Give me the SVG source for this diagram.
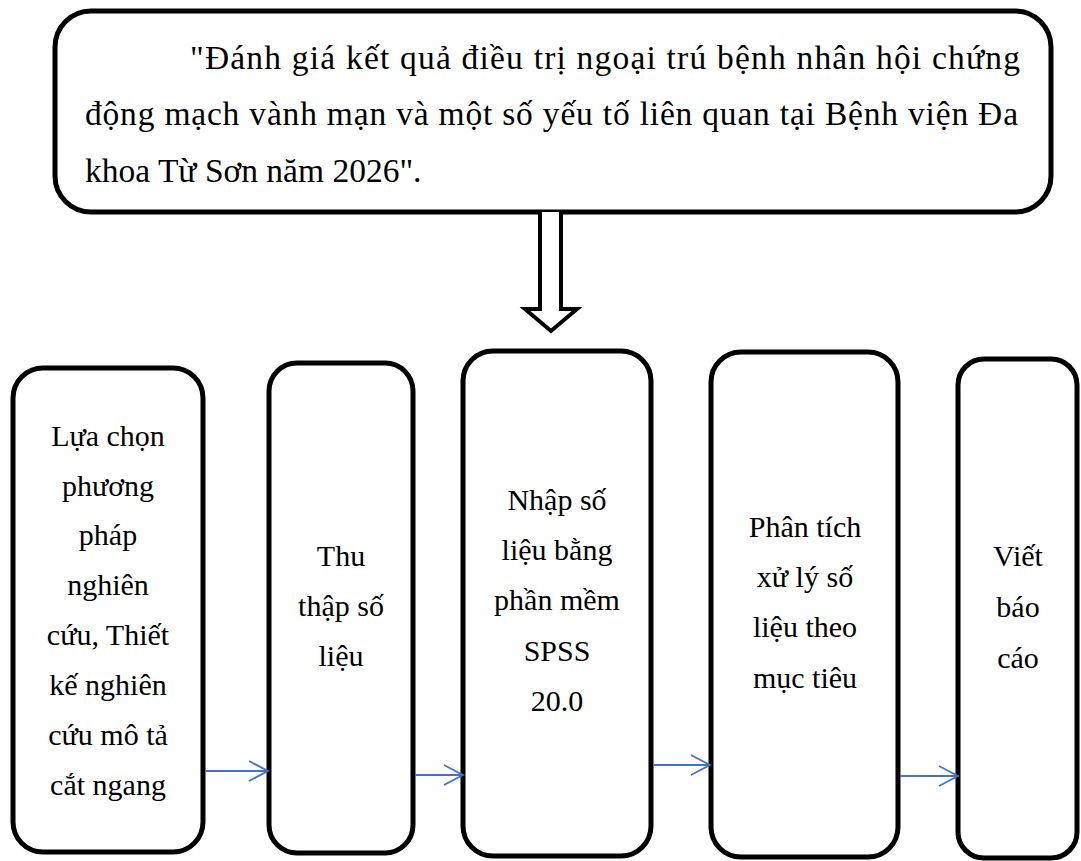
<svg xmlns="http://www.w3.org/2000/svg" width="1081" height="861" viewBox="0 0 1081 861">
<style>
  .box { fill: #ffffff; stroke: #000000; stroke-width: 5; }
  .t { font-family: "Liberation Serif", "Times New Roman", serif; font-size: 30px; fill: #000000; text-anchor: middle; }
  .tt { font-family: "Liberation Serif", "Times New Roman", serif; font-size: 33.5px; fill: #000000; }
  .conn { stroke: #4472C4; stroke-width: 1.8; fill: none; }
</style>
<defs>
  <marker id="arr" markerUnits="userSpaceOnUse" markerWidth="22" markerHeight="22" refX="19" refY="10" orient="auto" overflow="visible">
    <path d="M0,0 L19,10 L0,20" fill="none" stroke="#4472C4" stroke-width="1.8"/>
  </marker>
</defs>
<rect width="1081" height="861" fill="#ffffff"/>

<g id="title">
  <rect class="box" x="55" y="11" width="996" height="201" rx="36" ry="36"/>
  <text class="tt" x="190" y="69" textLength="830" lengthAdjust="spacing">"Đánh giá kết quả điều trị ngoại trú bệnh nhân hội chứng</text>
  <text class="tt" x="85" y="125" textLength="933" lengthAdjust="spacing">động mạch vành mạn và một số yếu tố liên quan tại Bệnh viện Đa</text>
  <text class="tt" x="85" y="182">khoa Từ Sơn năm 2026".</text>
</g>

<g id="block-arrow">
  <path d="M540,212 V309 H525 L551,331 L577,309 H561 V212" fill="#ffffff" stroke="#000000" stroke-width="4" stroke-linejoin="miter"/>
</g>

<g id="box1">
  <rect class="box" x="13" y="368" width="190" height="484" rx="30" ry="30"/>
  <text class="t" x="108" y="446">Lựa chọn</text>
  <text class="t" x="108" y="496">phương</text>
  <text class="t" x="108" y="545">pháp</text>
  <text class="t" x="108" y="595">nghiên</text>
  <text class="t" x="108" y="645">cứu, Thiết</text>
  <text class="t" x="108" y="695">kế nghiên</text>
  <text class="t" x="108" y="745">cứu mô tả</text>
  <text class="t" x="108" y="795">cắt ngang</text>
</g>

<g id="box2">
  <rect class="box" x="269" y="363" width="144" height="490" rx="28" ry="28"/>
  <text class="t" x="341" y="566">Thu</text>
  <text class="t" x="341" y="616">thập số</text>
  <text class="t" x="341" y="666">liệu</text>
</g>

<g id="box3">
  <rect class="box" x="463" y="351" width="188" height="505" rx="30" ry="30"/>
  <text class="t" x="557" y="510">Nhập số</text>
  <text class="t" x="557" y="560">liệu bằng</text>
  <text class="t" x="557" y="610">phần mềm</text>
  <text class="t" x="557" y="661">SPSS</text>
  <text class="t" x="557" y="711">20.0</text>
</g>

<g id="box4">
  <rect class="box" x="711" y="352" width="187" height="505" rx="30" ry="30"/>
  <text class="t" x="805" y="537">Phân tích</text>
  <text class="t" x="805" y="587">xử lý số</text>
  <text class="t" x="805" y="637">liệu theo</text>
  <text class="t" x="805" y="688">mục tiêu</text>
</g>

<g id="box5">
  <rect class="box" x="958" y="359" width="119" height="499" rx="26" ry="26"/>
  <text class="t" x="1018" y="566">Viết</text>
  <text class="t" x="1018" y="617">báo</text>
  <text class="t" x="1018" y="668">cáo</text>
</g>

<g id="connectors">
  <line class="conn" x1="205" y1="771" x2="268" y2="771" marker-end="url(#arr)"/>
  <line class="conn" x1="415" y1="775" x2="463" y2="775" marker-end="url(#arr)"/>
  <line class="conn" x1="653" y1="765" x2="710" y2="765" marker-end="url(#arr)"/>
  <line class="conn" x1="900" y1="776" x2="958" y2="776" marker-end="url(#arr)"/>
</g>
</svg>
